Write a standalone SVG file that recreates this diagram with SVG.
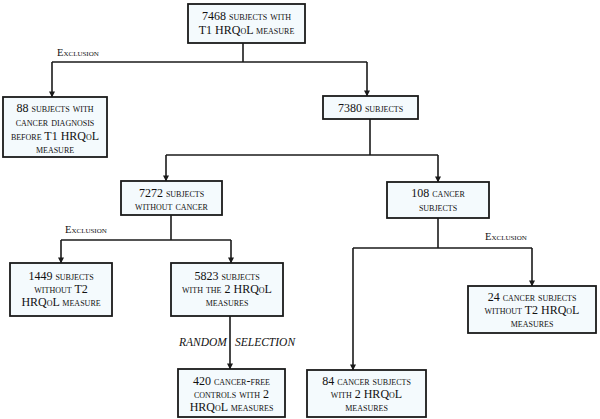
<svg xmlns="http://www.w3.org/2000/svg" width="600" height="419" viewBox="0 0 600 419">
<style>
.box{fill:#f4fafd;stroke:#1a1a1a;stroke-width:1.8}
.t{font-family:"Liberation Serif",serif;font-size:12px;font-variant:small-caps;text-anchor:middle;fill:#111}
.ex{font-family:"Liberation Serif",serif;font-size:10.5px;font-variant:small-caps;fill:#111}
.rs{font-family:"Liberation Serif",serif;font-size:11.5px;font-style:italic;fill:#111}
.c{fill:none;stroke:#1a1a1a;stroke-width:1.6}
</style>
<defs>
<marker id="ar" viewBox="0 0 8 8" refX="7.5" refY="4" markerWidth="6" markerHeight="6" markerUnits="userSpaceOnUse" orient="auto">
<path d="M0,0 L8,4 L0,8 z" fill="#1a1a1a"/>
</marker>
</defs>
<g id="connectors">
<path class="c" d="M243,43 V62"/>
<path class="c" d="M52,62 H367"/>
<path class="c" d="M52,62 V97" marker-end="url(#ar)"/>
<path class="c" d="M367,62 V96" marker-end="url(#ar)"/>
<path class="c" d="M370,119 V155"/>
<path class="c" d="M166,155 H438"/>
<path class="c" d="M166,155 V181" marker-end="url(#ar)"/>
<path class="c" d="M438,155 V182" marker-end="url(#ar)"/>
<path class="c" d="M171,215 V240"/>
<path class="c" d="M61,240 H231"/>
<path class="c" d="M61,240 V263" marker-end="url(#ar)"/>
<path class="c" d="M231,240 V263" marker-end="url(#ar)"/>
<path class="c" d="M438,218 V248"/>
<path class="c" d="M353,248 H532"/>
<path class="c" d="M532,248 V286" marker-end="url(#ar)"/>
<path class="c" d="M353,248 V370" marker-end="url(#ar)"/>
<path class="c" d="M230,316 V369" marker-end="url(#ar)"/>
<text class="ex" x="57" y="56">Exclusion</text>
<text class="ex" x="65" y="233">Exclusion</text>
<text class="ex" x="485" y="240">Exclusion</text>
<text class="rs" x="179" y="346">RANDOM</text>
<text class="rs" x="235" y="346">SELECTION</text>
</g>
<g id="n7468">
<rect class="box" x="188" y="4" width="117" height="39"/>
<text class="t" x="246.5" y="20">7468 subjects with</text>
<text class="t" x="246.5" y="34">T1 HRQoL measure</text>
</g>
<g id="n88">
<rect class="box" x="3" y="97" width="104" height="60"/>
<text class="t" x="55" y="112">88 subjects with</text>
<text class="t" x="55" y="126">cancer diagnosis</text>
<text class="t" x="55" y="140">before T1 HRQoL</text>
<text class="t" x="55" y="153">measure</text>
</g>
<g id="n7380">
<rect class="box" x="323" y="96" width="95" height="23"/>
<text class="t" x="370.5" y="112">7380 subjects</text>
</g>
<g id="n7272">
<rect class="box" x="121" y="181" width="101" height="34"/>
<text class="t" x="171.5" y="197">7272 subjects</text>
<text class="t" x="171.5" y="210">without cancer</text>
</g>
<g id="n108">
<rect class="box" x="387" y="182" width="102" height="36"/>
<text class="t" x="438" y="197">108 cancer</text>
<text class="t" x="438" y="211">subjects</text>
</g>
<g id="n1449">
<rect class="box" x="10" y="263" width="102" height="53"/>
<text class="t" x="61" y="280">1449 subjects</text>
<text class="t" x="61" y="293">without T2</text>
<text class="t" x="61" y="306">HRQoL measure</text>
</g>
<g id="n5823">
<rect class="box" x="171" y="263" width="112" height="53"/>
<text class="t" x="227" y="280">5823 subjects</text>
<text class="t" x="227" y="293">with the 2 HRQoL</text>
<text class="t" x="227" y="306">measures</text>
</g>
<g id="n24">
<rect class="box" x="468" y="286" width="128" height="47"/>
<text class="t" x="532" y="301">24 cancer subjects</text>
<text class="t" x="532" y="314">without T2 HRQoL</text>
<text class="t" x="532" y="327">measures</text>
</g>
<g id="n84">
<rect class="box" x="307" y="370" width="119" height="47"/>
<text class="t" x="366.5" y="385">84 cancer subjects</text>
<text class="t" x="366.5" y="398">with 2 HRQoL</text>
<text class="t" x="366.5" y="411">measures</text>
</g>
<g id="n420">
<rect class="box" x="178" y="369" width="107" height="48"/>
<text class="t" x="231.5" y="385">420 cancer-free</text>
<text class="t" x="231.5" y="398">controls with 2</text>
<text class="t" x="231.5" y="411">HRQoL measures</text>
</g>
</svg>
